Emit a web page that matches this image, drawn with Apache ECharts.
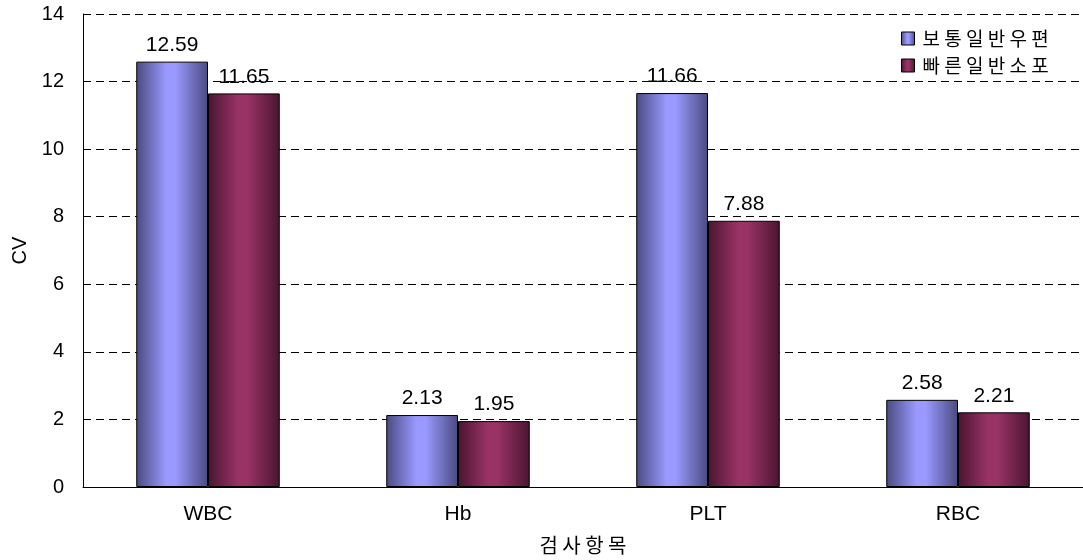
<!DOCTYPE html>
<html><head><meta charset="utf-8">
<script src="https://cdn.jsdelivr.net/npm/echarts@6/dist/echarts.min.js"></script>
<style>html,body{margin:0;padding:0;background:#fff}#c{width:1083px;height:560px}</style>
</head><body><div id="c"></div>
<script>
const categories = ['WBC', 'Hb', 'PLT', 'RBC'];
const seriesNames = ['보통일반우편', '빠른일반소포'];
const normalMail = [12.59, 2.13, 11.66, 2.58];
const fastParcel = [11.65, 1.95, 7.88, 2.21];
const yTicks = [0, 2, 4, 6, 8, 10, 12, 14];
const xAxisTitle = '검사항목';

const font = '"Liberation Sans", "Noto Sans CJK KR", sans-serif';
const krFont = '"Noto Sans CJK KR", sans-serif';
const spaced = s => s.split('').join(' ');
function grad(edge, mid) {
  return new echarts.graphic.LinearGradient(0, 0, 1, 0, [
    {offset: 0, color: edge}, {offset: 0.42, color: mid}, {offset: 0.55, color: mid}, {offset: 1, color: edge}
  ]);
}
const blue = () => grad('#4a4a80', '#9999ff');
const red = () => grad('#4a1530', '#993366');
const chart = echarts.init(document.getElementById('c'));
chart.setOption({
  animation: false,
  textStyle: {fontFamily: font},
  grid: {left: 83, right: -4, top: 14, bottom: 73, containLabel: false},
  legend: {
    orient: 'vertical', left: 896, top: 24, itemWidth: 13, itemHeight: 13, itemGap: 8,
    icon: 'rect',
    formatter: n => spaced(n),
    textStyle: {fontSize: 19, color: '#000', fontFamily: krFont, padding: [0, 0, 0, 3]},
    data: [
      {name: seriesNames[0], itemStyle: {color: blue(), borderColor: '#000', borderWidth: 1}},
      {name: seriesNames[1], itemStyle: {color: red(), borderColor: '#000', borderWidth: 1}}
    ]
  },
  xAxis: {
    type: 'category', data: categories,
    name: spaced(xAxisTitle), nameLocation: 'middle', nameGap: 48,
    nameTextStyle: {fontSize: 20, color: '#000', fontFamily: krFont},
    axisLine: {lineStyle: {color: '#000', width: 1}},
    axisTick: {inside: true, length: 7, lineStyle: {color: '#000'}},
    axisLabel: {fontSize: 21, color: '#000', margin: 17}
  },
  yAxis: {
    type: 'value', min: yTicks[0], max: yTicks[yTicks.length - 1], interval: 2,
    name: 'CV', nameLocation: 'middle', nameGap: 47,
    nameTextStyle: {fontSize: 20, color: '#000'},
    axisLine: {show: true, lineStyle: {color: '#000', width: 1}},
    axisTick: {show: false},
    axisLabel: {fontSize: 20, color: '#000', margin: 19},
    splitLine: {lineStyle: {color: '#000', type: [8, 5], width: 1}}
  },
  series: [
    {
      name: seriesNames[0], type: 'bar', data: normalMail, barGap: '0%', barCategoryGap: '42.6%',
      itemStyle: {color: blue(), borderColor: '#000', borderWidth: 1},
      label: {show: true, position: 'top', fontSize: 21, color: '#000', distance: 6}
    },
    {
      name: seriesNames[1], type: 'bar', data: fastParcel,
      itemStyle: {color: red(), borderColor: '#000', borderWidth: 1},
      label: {show: true, position: 'top', fontSize: 21, color: '#000', distance: 6}
    }
  ]
});
</script></body></html>
